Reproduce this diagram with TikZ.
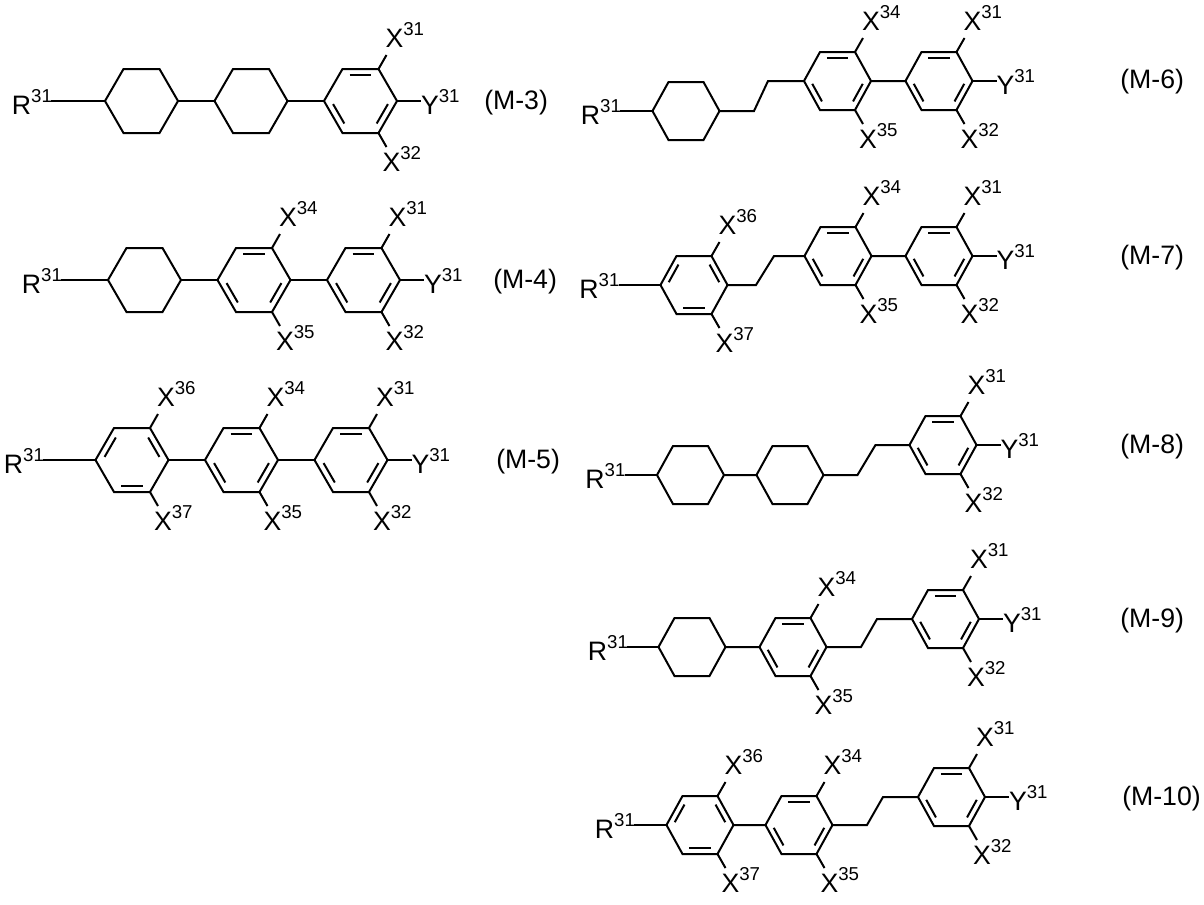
\documentclass[tikz,border=0pt]{standalone}
\usepackage{fontspec}
\setmainfont{Liberation Sans}
\usetikzlibrary{calc}
\newcommand\sps[1]{\raisebox{9pt}{\fontsize{14}{15}\selectfont #1}}
\newcommand\ring[6]{%
  \coordinate (#1-c) at (#2,#3);
  \coordinate (#1-L) at ({#2-#4},#3);
  \coordinate (#1-UL) at ({#2-#5},{#3-#6});
  \coordinate (#1-UR) at ({#2+#5},{#3-#6});
  \coordinate (#1-R) at ({#2+#4},#3);
  \coordinate (#1-LR) at ({#2+#5},{#3+#6});
  \coordinate (#1-LL) at ({#2-#5},{#3+#6});
  \draw[bond] (#1-L)--(#1-UL)--(#1-UR)--(#1-R)--(#1-LR)--(#1-LL)--cycle;}
\newcommand\dbl[3]{%
  \coordinate (dp) at ($(#1-c)!0.8!(#1-#2)$);
  \coordinate (dq) at ($(#1-c)!0.8!(#1-#3)$);
  \draw[bond] ($(dp)!0.12!(dq)$) -- ($(dq)!0.12!(dp)$);}
% pattern A: top, lower-right, lower-left ; pattern B: upper-left, upper-right, bottom
\newcommand\benzA[6]{\ring{#1}{#2}{#3}{#4}{#5}{#6}\dbl{#1}{UL}{UR}\dbl{#1}{R}{LR}\dbl{#1}{LL}{L}}
\newcommand\benzB[6]{\ring{#1}{#2}{#3}{#4}{#5}{#6}\dbl{#1}{L}{UL}\dbl{#1}{UR}{R}\dbl{#1}{LR}{LL}}
\newcommand\xup[2]{\draw[bond] (#1) -- ++(8,-14); \node[lab,anchor=base west] at ($(#1)+(7,-22)$) {X\sps{#2}};}
\newcommand\xdn[2]{\draw[bond] (#1) -- ++(8,14); \node[lab,anchor=base west] at ($(#1)+(4,38)$) {X\sps{#2}};}
\newcommand\yend[1]{\draw[bond] (#1) -- ++(24,0); \node[lab,anchor=base west] at ($(#1)+(24,13)$) {Y\sps{31}};}
\newcommand\rstart[2]{\coordinate (rs) at (#1); \draw[bond] (rs) -- (#2); \node[lab,anchor=base east] at ($(rs)+(1,13)$) {R\sps{31}};}
\begin{document}
\begin{tikzpicture}[x=0.75pt,y=-0.75pt,
  bond/.style={line width=1.5pt,line join=miter},
  lab/.style={inner sep=0pt,outer sep=0pt,font=\fontsize{20}{22}\selectfont},
  tag/.style={inner sep=0pt,anchor=base west,font=\fontsize{20}{22}\selectfont}]
\fill[white] (0,0) rectangle (1204,904);
\useasboundingbox (0,0) rectangle (1204,904);
\def\la{36.5}\def\lb{18}\def\lh{32}
\def\ra{33.5}\def\rb{17.5}\def\rh{29}
% ---------- M-3
\ring{a1}{141.5}{101}{\la}{\lb}{\lh}
\ring{a2}{251}{101}{\la}{\lb}{\lh}
\benzA{a3}{360.5}{101}{\la}{\lb}{\lh}
\rstart{51,101}{a1-L}
\draw[bond] (a1-R)--(a2-L) (a2-R)--(a3-L);
\xup{a3-UR}{31}\xdn{a3-LR}{32}\yend{a3-R}
\node[tag] (t3) at (484,109) {(M-3)};
% ---------- M-4
\ring{b1}{144.5}{280}{\la}{\lb}{\lh}
\benzA{b2}{254}{280}{\la}{\lb}{\lh}
\benzA{b3}{363.5}{280}{\la}{\lb}{\lh}
\rstart{61,280}{b1-L}
\draw[bond] (b1-R)--(b2-L) (b2-R)--(b3-L);
\xup{b2-UR}{34}\xdn{b2-LR}{35}
\xup{b3-UR}{31}\xdn{b3-LR}{32}\yend{b3-R}
\node[tag] (t4) at (493,288) {(M-4)};
% ---------- M-5
\benzB{c1}{132}{460}{\la}{\lb}{\lh}
\benzA{c2}{241.5}{460}{\la}{\lb}{\lh}
\benzA{c3}{351}{460}{\la}{\lb}{\lh}
\rstart{43,460}{c1-L}
\draw[bond] (c1-R)--(c2-L) (c2-R)--(c3-L);
\xup{c1-UR}{36}\xdn{c1-LR}{37}
\xup{c2-UR}{34}\xdn{c2-LR}{35}
\xup{c3-UR}{31}\xdn{c3-LR}{32}\yend{c3-R}
\node[tag] (t5) at (496,468) {(M-5)};
% ---------- M-6
\ring{d1}{686}{111}{\ra}{\rb}{\rh}
\benzA{d2}{837.5}{81}{\ra}{\rb}{\rh}
\benzA{d3}{939}{81}{\ra}{\rb}{\rh}
\rstart{620,111}{d1-L}
\coordinate (d4) at (754,111); \coordinate (d5) at (768,81);
\draw[bond] (d1-R)--(d4)--(d5)--(d2-L) (d2-R)--(d3-L);
\xup{d2-UR}{34}\xdn{d2-LR}{35}
\xup{d3-UR}{31}\xdn{d3-LR}{32}\yend{d3-R}
\node[tag] (t6) at (1120,88) {(M-6)};
% ---------- M-7
\benzB{e1}{694}{285}{\ra}{\rb}{\rh}
\benzA{e2}{838}{256}{\ra}{\rb}{\rh}
\benzA{e3}{939}{256}{\ra}{\rb}{\rh}
\rstart{618.5,285}{e1-L}
\coordinate (e4) at (756,285); \coordinate (e5) at (774,256);
\draw[bond] (e1-R)--(e4)--(e5)--(e2-L) (e2-R)--(e3-L);
\xup{e1-UR}{36}\xdn{e1-LR}{37}
\xup{e2-UR}{34}\xdn{e2-LR}{35}
\xup{e3-UR}{31}\xdn{e3-LR}{32}\yend{e3-R}
\node[tag] (t7) at (1120,264) {(M-7)};
% ---------- M-8
\ring{f1}{690.5}{475}{\ra}{\rb}{\rh}
\ring{f2}{790}{475}{\ra}{\rb}{\rh}
\benzA{f3}{943}{445}{\ra}{\rb}{\rh}
\rstart{624.5,475}{f1-L}
\coordinate (f4) at (857.5,475); \coordinate (f5) at (875.5,445);
\draw[bond] (f1-R)--(f2-L) (f2-R)--(f4)--(f5)--(f3-L);
\xup{f3-UR}{31}\xdn{f3-LR}{32}\yend{f3-R}
\node[tag] (t8) at (1120,453) {(M-8)};
% ---------- M-9
\ring{g1}{692}{647}{\ra}{\rb}{\rh}
\benzA{g2}{793}{647}{\ra}{\rb}{\rh}
\benzA{g3}{945.5}{619}{\ra}{\rb}{\rh}
\rstart{627,647}{g1-L}
\coordinate (g4) at (861,647); \coordinate (g5) at (877,619);
\draw[bond] (g1-R)--(g2-L) (g2-R)--(g4)--(g5)--(g3-L);
\xup{g2-UR}{34}\xdn{g2-LR}{35}
\xup{g3-UR}{31}\xdn{g3-LR}{32}\yend{g3-R}
\node[tag] (t9) at (1120,627) {(M-9)};
% ---------- M-10
\benzB{h1}{700}{825}{\ra}{\rb}{\rh}
\benzA{h2}{799}{825}{\ra}{\rb}{\rh}
\benzA{h3}{951.5}{797}{\ra}{\rb}{\rh}
\rstart{634,825}{h1-L}
\coordinate (h4) at (867,825); \coordinate (h5) at (883,797);
\draw[bond] (h1-R)--(h2-L) (h2-R)--(h4)--(h5)--(h3-L);
\xup{h1-UR}{36}\xdn{h1-LR}{37}
\xup{h2-UR}{34}\xdn{h2-LR}{35}
\xup{h3-UR}{31}\xdn{h3-LR}{32}\yend{h3-R}
\node[tag] (t10) at (1122,805) {(M-10)};
\end{tikzpicture}
\end{document}
